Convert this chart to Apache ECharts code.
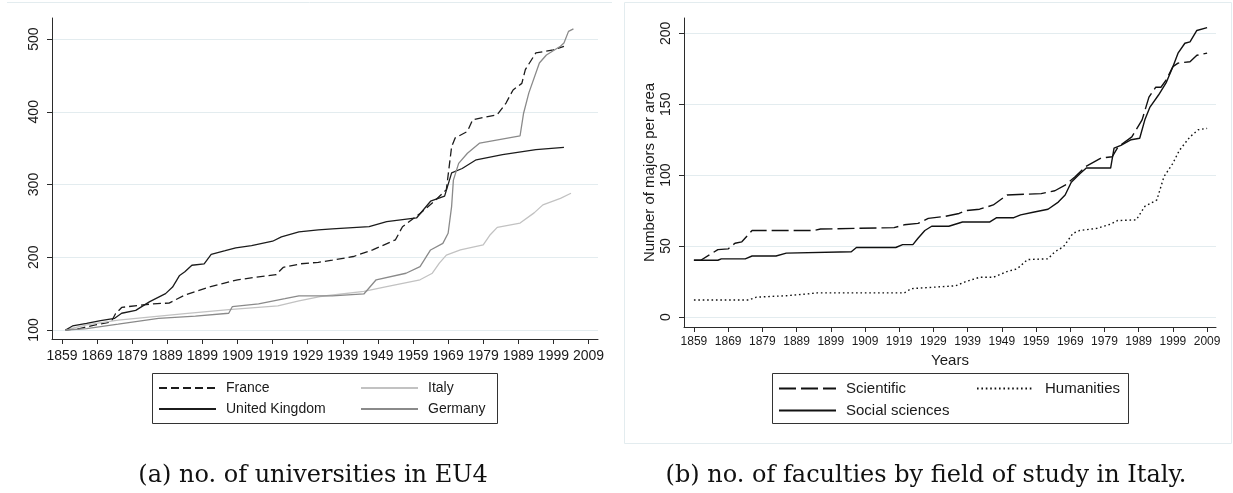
<!DOCTYPE html>
<html><head><meta charset="utf-8">
<script src="https://cdn.jsdelivr.net/npm/echarts@6/dist/echarts.min.js"></script>
<style>html,body{margin:0;padding:0;background:#fff}#c{width:1233px;height:493px}</style>
</head><body><div id="c"></div>
<script>
const yearTicks = [1859,1869,1879,1889,1899,1909,1919,1929,1939,1949,1959,1969,1979,1989,1999,2009];
const leftYTicks = [100,200,300,400,500];
const rightYTicks = [0,50,100,150,200];

const france = [[1860,100],[1864,102],[1868.5,107],[1873,111],[1874.2,122],[1876,131],[1881,134],[1885,136],[1889.5,137],[1894,148],[1901,159],[1905,164],[1909,169],[1915,173],[1920,176],[1922,186],[1927,191],[1932,193],[1936,196],[1942,201],[1947.5,210],[1954,224],[1956,242],[1961,260],[1965.5,279],[1968.5,293],[1970,352],[1971,364],[1974.5,373],[1976,389],[1983,396],[1985.5,412],[1987.5,430],[1990,439],[1991,458],[1994,481],[1999,485],[2002,490]];
const uk = [[1860,100],[1862,105.5],[1866,109],[1870,113],[1874,116],[1876,123],[1880,127],[1884,139],[1888.5,150],[1890.5,159],[1892.5,175],[1894,180],[1896,189],[1899.5,191],[1901.5,204],[1905.5,209],[1908.5,213],[1913,216],[1919,222],[1921.5,228],[1926.5,235],[1932,237.5],[1936,239],[1946.5,242],[1951.5,249],[1960,254],[1964,277],[1968,284],[1970,316],[1973,322],[1977,334],[1984.5,341],[1994,348],[2002,351]];
const italy = [[1860,100],[1866,107],[1875,113.5],[1884.5,118],[1894,122.5],[1906.5,128],[1920.5,133],[1926.5,140],[1932.5,146],[1945,153],[1951.5,159.5],[1961,169],[1964.5,178],[1966.5,192],[1968.5,203],[1972.5,210],[1979,217],[1981,231],[1983,241],[1989.5,247],[1993.5,261],[1996,272],[2001,281],[2004,288]];
const germany = [[1860,100],[1866,102],[1875,108],[1886.5,116],[1897,119],[1906.5,123],[1907.5,132],[1915,136],[1922.5,143],[1926.5,147],[1936,147],[1945,149.5],[1948.5,169],[1957,178],[1961,187],[1964,210],[1967.5,219],[1969,233],[1970,270],[1970.5,306],[1972,329],[1974.5,343],[1978,357],[1989.5,367],[1990.5,398],[1992,426],[1995,467],[1997,478],[2001,490],[2002,494.5],[2003.3,510.5],[2004.7,514]];

const scientific = [[1859,40],[1861,40],[1866,47.5],[1869,48],[1871,52],[1873,53],[1876,61],[1894,61],[1896,62],[1917.5,63],[1920.5,65],[1924.5,66],[1927.5,69.5],[1932.5,71],[1936.5,73],[1938.5,75],[1942.5,76],[1946.5,79],[1950.5,86],[1960.5,87],[1964.5,89],[1967.5,93],[1970.5,99],[1973.5,106],[1978,112],[1981.3,113],[1983,120],[1987,127],[1990,139],[1992,155],[1994,162],[1995.5,162],[1997,167],[1999,176.5],[2000.5,179],[2004,180],[2006,184.5],[2009,186]];
const social = [[1859,40],[1866,40],[1867,41],[1874,41],[1876,43],[1883,43],[1886,45],[1905,46],[1906.5,49],[1918,49],[1920,51],[1923,51],[1924.5,55.5],[1926.5,61],[1928.5,64],[1933.5,64],[1937.5,67],[1945.5,67],[1947.5,70],[1952.5,70],[1954.5,72],[1958.5,74],[1962.5,76],[1965.5,81],[1967.5,86],[1969.3,95],[1971.8,101],[1973.7,105],[1980.8,105],[1981.8,119],[1983.8,121],[1986.8,125],[1989.3,126],[1990.8,139],[1992.3,148],[1994.8,156.5],[1997,165],[1999,176.5],[2000.5,186],[2002.5,193],[2004,194],[2006,202],[2009,204]];
const humanities = [[1859,12],[1875,12],[1877.3,14],[1886,15],[1891,16],[1895,17],[1920.5,17],[1922.5,20],[1935.5,22],[1938.5,25],[1942.5,28],[1946.5,28],[1950.5,32],[1953.5,34],[1956.5,40.5],[1962.5,41],[1964.5,46],[1967,49.5],[1969.8,59],[1971.8,61],[1976.8,62.5],[1980.8,65.5],[1982.8,68],[1988.3,68.5],[1990.8,78],[1994.3,82.5],[1996.4,99],[1998.9,108],[2000.9,117.5],[2004,127],[2006.4,132],[2009,133]];

const FONT = 'Liberation Sans, Arial, sans-serif';
const AXC = '#2b2b2b';
const GRIDC = '#e3ecef';

function xAxis(gi, min, max, fs, margin, extra) {
  return Object.assign({
    gridIndex: gi, type: 'value', min: min, max: max,
    axisLine: {show: true, onZero: false, lineStyle: {color: AXC, width: 1}},
    axisTick: {show: true, length: 5, customValues: yearTicks, lineStyle: {color: AXC}},
    axisLabel: {customValues: yearTicks, fontSize: fs, margin: margin, color: '#1a1a1a', fontFamily: FONT, formatter: v => String(v)},
    splitLine: {show: false}
  }, extra || {});
}
function yAxis(gi, min, max, ticks, extra) {
  return Object.assign({
    gridIndex: gi, type: 'value', min: min, max: max,
    axisLine: {show: true, onZero: false, lineStyle: {color: AXC, width: 1}},
    axisTick: {show: true, length: 5, customValues: ticks, lineStyle: {color: AXC}},
    axisLabel: {customValues: ticks, rotate: 90, fontSize: 14, margin: 11, color: '#1a1a1a', fontFamily: FONT, formatter: v => String(v)},
    splitLine: {show: true, lineStyle: {color: GRIDC, width: 1}}
  }, extra || {});
}
function line(name, data, xi, color, type, width) {
  return {name: name, type: 'line', xAxisIndex: xi, yAxisIndex: xi, data: data,
    symbol: 'none', silent: true, animation: false,
    lineStyle: {color: color, type: type, width: width}, itemStyle: {color: color}};
}
const legendBase = {orient: 'vertical', top: 381, padding: 0, itemWidth: 57, itemHeight: 14, itemGap: 7, selectedMode: false,
  itemStyle: {opacity: 0},
  textStyle: {fontSize: 14, fontFamily: FONT, color: '#1a1a1a', padding: [0, 0, 0, 5]}};

const chart = echarts.init(document.getElementById('c'), null, {renderer: 'canvas'});
chart.setOption({
  backgroundColor: '#ffffff',
  animation: false,
  grid: [
    {left: 52, top: 18, width: 546, height: 321},
    {left: 684, top: 18, width: 532, height: 309}
  ],
  xAxis: [
    xAxis(0, 1856.15, 2011.7, 14, 10),
    xAxis(1, 1856.1, 2011.6, 12, 9, {name: 'Years', nameLocation: 'middle', nameGap: 21,
      nameTextStyle: {fontSize: 15, fontFamily: FONT, color: '#1a1a1a'}})
  ],
  yAxis: [
    yAxis(0, 87.6, 528.9, leftYTicks),
    yAxis(1, -7.05, 210.8, rightYTicks, {name: 'Number of majors per area', nameLocation: 'middle', nameGap: 27, nameRotate: 90,
      nameTextStyle: {fontSize: 15, fontFamily: FONT, color: '#1a1a1a'}})
  ],
  legend: [
    Object.assign({}, legendBase, {left: 158, data: ['France', 'United Kingdom']}),
    Object.assign({}, legendBase, {left: 360, data: ['Italy', 'Germany']}),
    Object.assign({}, legendBase, {left: 778, data: ['Scientific', 'Social sciences'], textStyle: Object.assign({}, legendBase.textStyle, {fontSize: 15})}),
    Object.assign({}, legendBase, {left: 976, itemWidth: 55, data: ['Humanities'], textStyle: Object.assign({}, legendBase.textStyle, {fontSize: 15, padding: [0, 0, 0, 8]})})
  ],
  series: [
    line('France', france, 0, '#1c1c1c', [8, 4], 1.3),
    line('Italy', italy, 0, '#c2c2c2', 'solid', 1.3),
    line('United Kingdom', uk, 0, '#1c1c1c', 'solid', 1.3),
    line('Germany', germany, 0, '#8a8a8a', 'solid', 1.3),
    line('Scientific', scientific, 1, '#111111', [17, 5], 1.4),
    line('Humanities', humanities, 1, '#111111', [1.6, 2.8], 1.4),
    line('Social sciences', social, 1, '#111111', 'solid', 1.4)
  ],
  graphic: [
    {type: 'line', shape: {x1: 7, y1: 2.5, x2: 612, y2: 2.5}, style: {stroke: GRIDC, lineWidth: 1}, silent: true},
    {type: 'rect', shape: {x: 624.5, y: 2.5, width: 607, height: 441}, style: {fill: null, stroke: GRIDC, lineWidth: 1}, silent: true, z: -1},
    {type: 'rect', shape: {x: 152.5, y: 373.5, width: 345, height: 50}, style: {fill: null, stroke: '#333', lineWidth: 1}, silent: true},
    {type: 'rect', shape: {x: 772.5, y: 373.5, width: 356, height: 50}, style: {fill: null, stroke: '#333', lineWidth: 1}, silent: true},
    {type: 'text', x: 313, y: 476, style: {text: '(a) no. of universities in EU4', font: '24px "DejaVu Serif", serif', fill: '#111', textAlign: 'center', textVerticalAlign: 'middle'}, silent: true},
    {type: 'text', x: 926, y: 476, style: {text: '(b) no. of faculties by field of study in Italy.', font: '24px "DejaVu Serif", serif', fill: '#111', textAlign: 'center', textVerticalAlign: 'middle'}, silent: true}
  ]
});
</script>
</body></html>
